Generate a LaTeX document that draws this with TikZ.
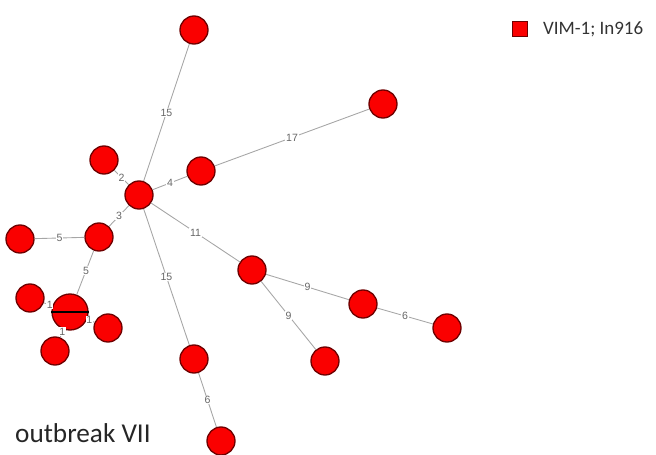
\documentclass[tikz,border=0pt]{standalone}
\usepackage{fontspec}
\setmainfont{Carlito}
\newfontfamily\edgefont{Liberation Sans}
\usepackage{tikz}
\usetikzlibrary{positioning, fit, calc}

\definecolor{isored}{RGB}{250,0,0}
\definecolor{isoedge}{RGB}{200,0,0}

\tikzset{
  iso/.style={circle, draw=isoedge!55!black, fill=isored, line width=0.75pt,
              minimum size=0.56cm, inner sep=0pt},
  bigiso/.style={iso, minimum size=0.72cm},
  link/.style={draw=gray!70, line width=0.5pt},
  dist/.style={fill=white, inner sep=0.4pt, text=gray!80!black,
               font=\edgefont\fontsize{6}{7}\selectfont}
}

\begin{document}
\begin{tikzpicture}[x=0.02cm, y=-0.02cm]
                \useasboundingbox (0,0) rectangle (656,455);

                \node[iso] (top) at (194,30) {};
                \node[iso] (far) at (383,104) {};
                \node[iso] (two) at (104,160) {};
                \node[iso] (hub) at (139,195) {};
                \node[iso] (four) at (201,171) {};
                \node[iso] (left) at (20,239) {};
                \node[iso] (mid) at (99,237) {};
                \node[bigiso] (big) at (70,312) {};
                \node[iso] (oneA) at (30,298) {};
                \node[iso] (oneB) at (108,328) {};
                \node[iso] (oneC) at (55,351) {};
                \node[iso] (ele) at (252,270) {};
                \node[iso] (nineA) at (363,304) {};
                \node[iso] (six) at (447,328) {};
                \node[iso] (nineB) at (325,361) {};
                \node[iso] (fif) at (194,359) {};
                \node[iso] (bot) at (221,441) {};

                \draw[link] (hub) -- node[dist] {15} (top);
                \draw[link] (four) -- node[dist] {17} (far);
                \draw[link] (hub) -- node[dist] {4} (four);
                \draw[link] (hub) -- node[dist] {2} (two);
                \draw[link] (hub) -- node[dist] {3} (mid);
                \draw[link] (mid) -- node[dist] {5} (left);
                \draw[link] (mid) -- node[dist, pos=0.45] {5} (big);
                \draw[link] (big) -- node[dist, pos=0.3] {1} (oneA);
                \draw[link] (big) -- node[dist, pos=0.3] {1} (oneB);
                \draw[link] (big) -- node[dist, pos=0.3] {1} (oneC);
                \draw[link] (hub) -- node[dist] {11} (ele);
                \draw[link] (hub) -- node[dist] {15} (fif);
                \draw[link] (ele) -- node[dist] {9} (nineA);
                \draw[link] (ele) -- node[dist] {9} (nineB);
                \draw[link] (nineA) -- node[dist] {6} (six);
                \draw[link] (fif) -- node[dist] {6} (bot);

                % split line across the shared profile
                \draw[black, line width=0.9pt] (big.west) -- (big.east);

                % legend and caption
                \node[draw=isoedge!55!black, fill=isored, minimum size=0.3cm, inner sep=0pt] (key) at (520,29) {};
                \node[right=0.18cm of key, font=\fontsize{10.8}{12}\selectfont, text=black!80] (keytext) {VIM-1; In916};
                \node[anchor=west, font=\fontsize{15.5}{17}\selectfont, text=black!85] (caption) at (9,433) {outbreak VII};
            \end{tikzpicture}
\end{document}
